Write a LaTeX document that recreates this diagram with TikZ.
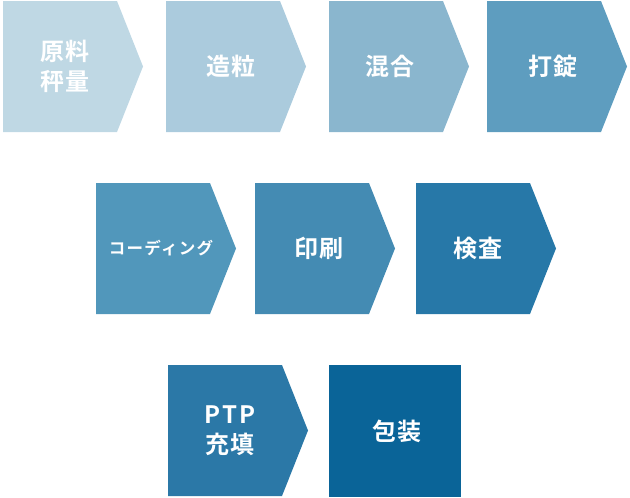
\documentclass[tikz,border=0pt]{standalone}
\usepackage{fontspec}
\newfontfamily\jpfont[LetterSpace=8]{Noto Sans CJK JP Bold}
\definecolor{cA}{HTML}{BFD8E4}
\definecolor{cB}{HTML}{ABCBDD}
\definecolor{cC}{HTML}{8AB6CE}
\definecolor{cD}{HTML}{5E9DBF}
\definecolor{cE}{HTML}{5197BB}
\definecolor{cF}{HTML}{448BB3}
\definecolor{cG}{HTML}{2778A8}
\definecolor{cH}{HTML}{2B78A7}
\definecolor{cI}{HTML}{0A6498}
\tikzset{
  lbl/.style={text=white, font=\jpfont\fontsize{24}{30}\selectfont, align=center, inner sep=0pt},
  smalllbl/.style={text=white, font=\jpfont\fontsize{16.5}{20}\selectfont, align=center, inner sep=0pt}
}
\newcommand{\chevshape}[3]{%
  \fill[#3] (#1,-#2) -- ++(114,0) -- ++(26,-65.5) -- ++(-26,-65.5) -- ++(-114,0) -- cycle;}
\begin{document}
\begin{tikzpicture}[x=1pt,y=1pt]
\useasboundingbox (0,0) rectangle (630,-498);
% row 1
\chevshape{3}{1}{cA}
\chevshape{166}{1}{cB}
\chevshape{329}{1}{cC}
\chevshape{487}{1}{cD}
\node[lbl] (n1) at (65,-66.5) {原料\\秤量};
\node[lbl] (n2) at (231,-66.5) {造粒};
\node[lbl] (n3) at (390,-66.5) {混合};
\node[lbl] (n4) at (553,-66.5) {打錠};
% row 2
\chevshape{96}{183}{cE}
\chevshape{255}{183}{cF}
\chevshape{416}{183}{cG}
\node[smalllbl] (n5) at (161,-248.5) {コーディング};
\node[lbl] (n6) at (319,-248.5) {印刷};
\node[lbl] (n7) at (478,-248.5) {検査};
% row 3
\chevshape{168}{365}{cH}
\fill[cI] (329,-365) rectangle (461,-497);
\node[lbl] (n8) at (230,-431) {PTP\\充填};
\node[lbl] (n9) at (397,-431) {包装};
\end{tikzpicture}
\end{document}
